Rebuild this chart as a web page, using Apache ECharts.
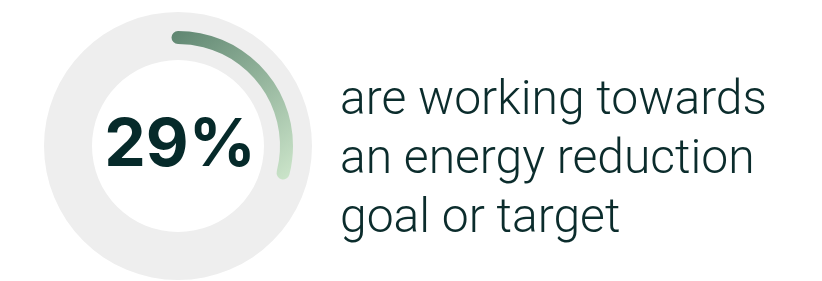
<!DOCTYPE html>
<html>
<head>
<meta charset="utf-8">
<script src="https://cdn.jsdelivr.net/npm/echarts@6/dist/echarts.min.js"></script>
<style>
  html, body { margin: 0; padding: 0; background: #fff; }
  #chart { width: 822px; height: 281px; }
</style>
</head>
<body>
<div id="chart"></div>
<script>
// share of respondents working towards a goal
const shareValue = 29
const trackValue = 100
const captionLines = ['are working towards', 'an energy reduction', 'goal or target']

const textColor = '#0b2c2c'

const chart = echarts.init(document.getElementById('chart'))

chart.setOption({
  animation: false,
  title: {
    text: captionLines.join('\n'),
    left: 335,
    top: 67,
    textStyle: {
      fontFamily: 'Roboto',
      fontWeight: 300,
      fontSize: 48,
      lineHeight: 59,
      color: textColor
    }
  },
  series: [
    {
      // grey background track
      type: 'gauge',
      center: [178, 146],
      radius: 134,
      startAngle: 90,
      endAngle: -270,
      min: 0,
      max: 100,
      silent: true,
      axisLine: { lineStyle: { width: 48, color: [[1, '#eeeeee']] } },
      axisTick: { show: false },
      splitLine: { show: false },
      axisLabel: { show: false },
      pointer: { show: false },
      title: { show: false },
      detail: { show: false },
      data: [{ value: trackValue }]
    },
    {
      type: 'gauge',
      center: [178, 146],
      radius: 115,
      startAngle: 90,
      endAngle: -270,
      min: 0,
      max: 100,
      axisLine: { lineStyle: { width: 13, color: [[1, 'rgba(0,0,0,0)']] } },
      progress: {
        show: true,
        width: 13,
        roundCap: true,
        itemStyle: {
          color: new echarts.graphic.LinearGradient(0, 0, 1, 1, [
            { offset: 0, color: '#5e8570' },
            { offset: 1, color: '#cde6cb' }
          ])
        }
      },
      axisTick: { show: false },
      splitLine: { show: false },
      axisLabel: { show: false },
      pointer: { show: false },
      title: { show: false },
      detail: {
        offsetCenter: [2, 0],
        valueAnimation: false,
        formatter: '{value}%',
        fontFamily: 'Inter',
        fontWeight: 700,
        fontSize: 66,
        color: '#062a2a'
      },
      data: [{ value: shareValue }]
    }
  ]
})
</script>
</body>
</html>
